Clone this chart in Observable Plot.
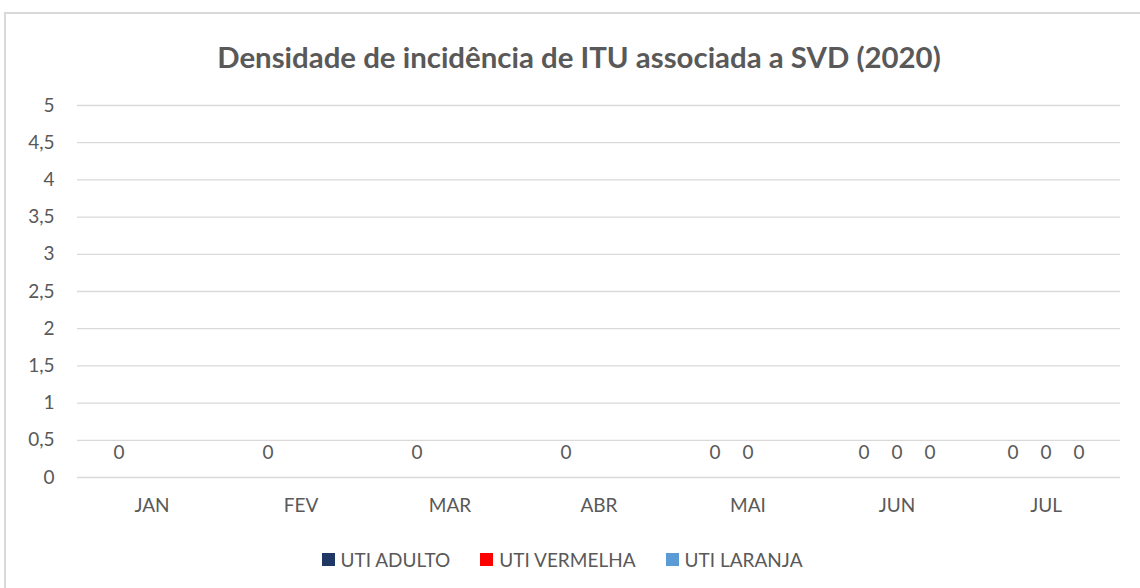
<!DOCTYPE html>
<html>
<head>
<meta charset="utf-8">
<script src="https://cdn.jsdelivr.net/npm/d3@7"></script>
<script src="https://cdn.jsdelivr.net/npm/@observablehq/plot@0.6"></script>
<style>
  html, body { margin: 0; padding: 0; background: #fff; }
  body { width: 1140px; height: 588px; overflow: hidden; position: relative; font-family: Lato, "Noto Sans", sans-serif; color: #595959; }
  #frame { position: absolute; left: 4px; top: 12px; width: 1200px; height: 700px; border: 2px solid #d9d9d9; box-sizing: border-box; }
  #wrap { position: absolute; left: 0; top: 0; width: 1140px; }
  #title { height: 90px; box-sizing: border-box; padding-top: 40px; width: 1158px; text-align: center; font-weight: bold; font-size: 29.4px; line-height: 34px; color: #595959; }
  #legend { display: flex; justify-content: center; align-items: center; width: 1124px; height: 48px; font-size: 19px; color: #595959; }
  .item { display: flex; align-items: center; margin: 0 15px; }
  .sw { width: 13px; height: 13px; margin-right: 6px; }
</style>
</head>
<body>
<div id="frame"></div>
<div id="wrap">
  <div id="title"></div>
  <div id="chart"></div>
  <div id="legend"></div>
</div>
<script>
const title = "Densidade de incidência de ITU associada a SVD (2020)";
const months = ["JAN", "FEV", "MAR", "ABR", "MAI", "JUN", "JUL"];
const seriesNames = ["UTI ADULTO", "UTI VERMELHA", "UTI LARANJA"];
const seriesColors = ["#203864", "#ff0000", "#5b9bd5"];
const utiAdulto = [0, 0, 0, 0, 0, 0, 0];
const utiVermelha = [null, null, null, null, 0, 0, 0];
const utiLaranja = [null, null, null, null, null, 0, 0];
const yTicks = [0, 0.5, 1, 1.5, 2, 2.5, 3, 3.5, 4, 4.5, 5];

const seriesValues = [utiAdulto, utiVermelha, utiLaranja];
const rows = [];
months.forEach((m, i) => {
  seriesNames.forEach((s, j) => {
    const v = seriesValues[j][i];
    if (v !== null && v !== undefined) rows.push({month: m, series: s, value: v});
  });
});

document.getElementById("title").textContent = title;

const fmt = d => String(d).replace(".", ",");

const chart = Plot.plot({
  width: 1140,
  height: 445,
  marginTop: 15,
  marginBottom: 58,
  marginLeft: 75,
  marginRight: 18,
  style: {fontFamily: "Lato, 'Noto Sans', sans-serif", fontSize: "19px", color: "#595959", background: "transparent"},
  fx: {domain: months, padding: 0, label: null, tickSize: 0, tickPadding: 21, axis: "bottom"},
  x: {domain: seriesNames, type: "band", paddingInner: 0, paddingOuter: 0.73, axis: null},
  y: {domain: [0, 5], ticks: yTicks, tickFormat: fmt, tickSize: 0, tickPadding: 23, label: null},
  color: {domain: seriesNames, range: seriesColors},
  marks: [
    Plot.ruleY(yTicks, {stroke: "#d9d9d9", strokeWidth: 1.3}),
    Plot.barY(rows, {fx: "month", x: "series", y: "value", fill: "series"}),
    Plot.text(rows, {fx: "month", x: "series", y: "value", text: d => fmt(d.value), dy: -25, fill: "#595959", fontSize: 19})
  ]
});
document.getElementById("chart").appendChild(chart);

const legend = document.getElementById("legend");
seriesNames.forEach((s, j) => {
  const item = document.createElement("div");
  item.className = "item";
  const sw = document.createElement("div");
  sw.className = "sw";
  sw.style.background = seriesColors[j];
  const lab = document.createElement("span");
  lab.textContent = s;
  item.appendChild(sw);
  item.appendChild(lab);
  legend.appendChild(item);
});
</script>
</body>
</html>
